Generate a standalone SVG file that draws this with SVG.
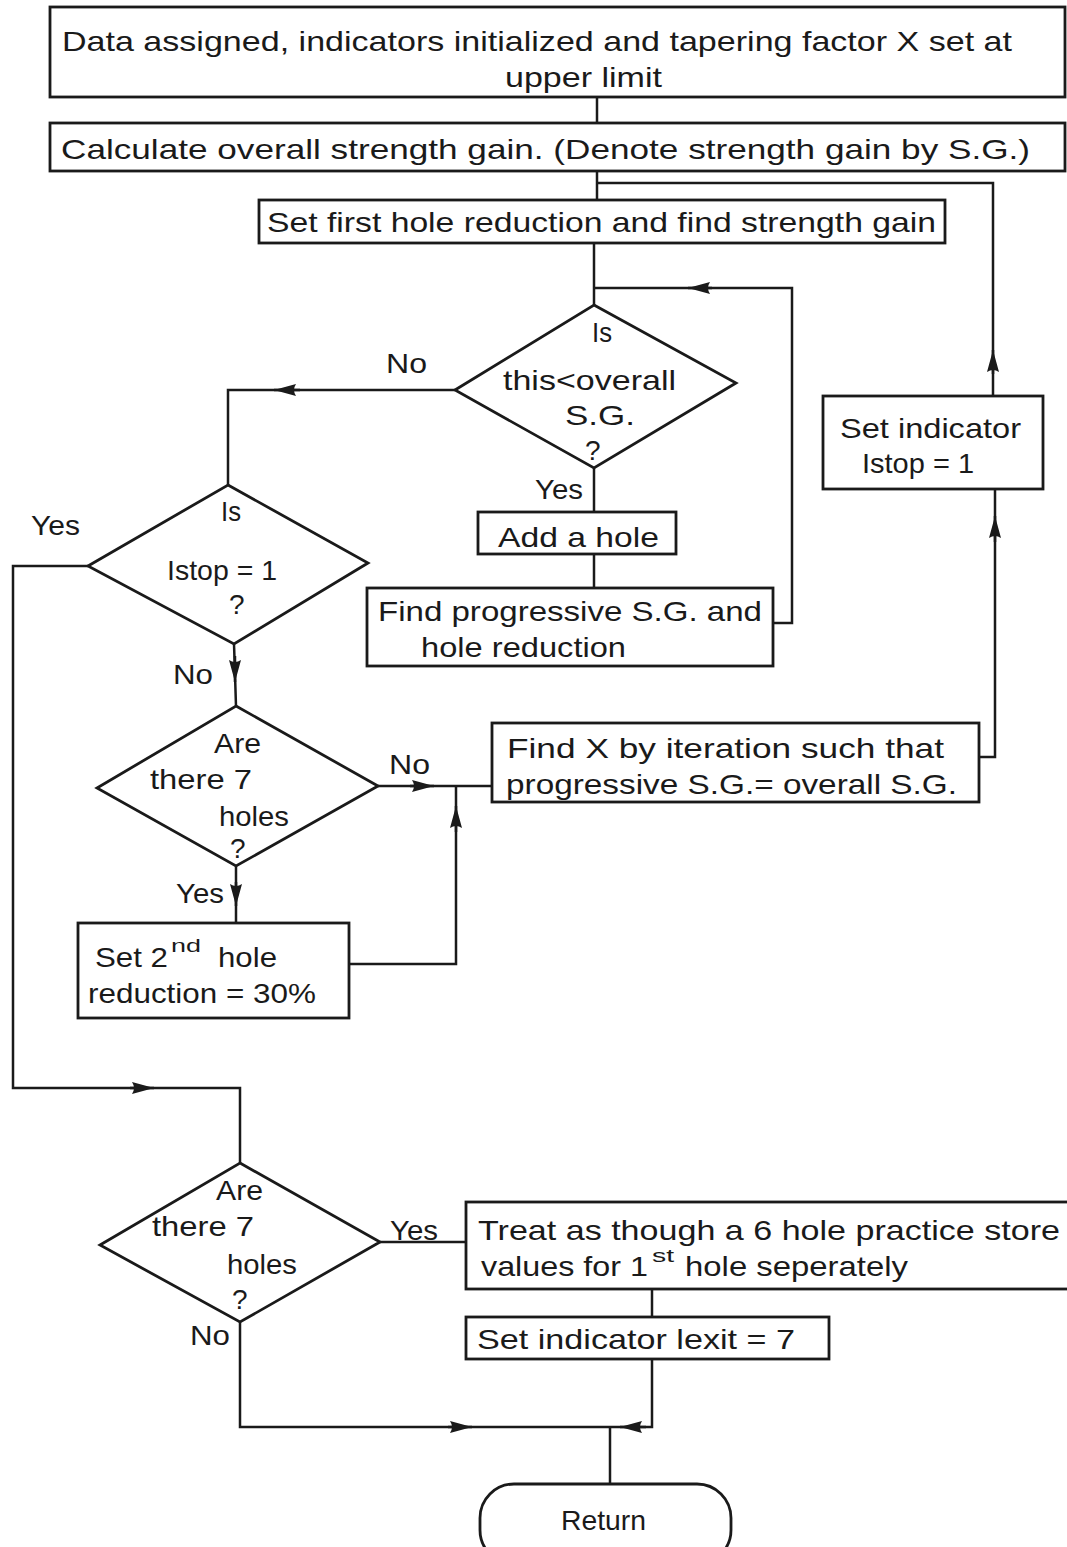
<svg xmlns="http://www.w3.org/2000/svg" width="1067" height="1547" viewBox="0 0 1067 1547">
<style>
.b{fill:#fff;stroke:#1a1a1a;stroke-width:2.8}
.c{fill:none;stroke:#1a1a1a;stroke-width:2.5}
.a{fill:none;stroke:#1a1a1a;stroke-width:2.5;marker-end:url(#ah)}
.t{font-family:"Liberation Sans",Arial,sans-serif;font-size:28px;fill:#1a1a1a}
.s{font-size:19px}
</style>
<defs>
<marker id="ah" markerUnits="userSpaceOnUse" markerWidth="24" markerHeight="14" refX="22" refY="7" orient="auto" viewBox="0 0 24 14">
<path d="M0,1 L22,7 L0,13 Q4,7 0,1 z" fill="#1a1a1a"/>
</marker>
</defs>
<rect width="1067" height="1547" fill="#fff"/>
<g id="connectors">
<path class="c" d="M597,97 V123"/>
<path class="c" d="M597,171 V200"/>
<path class="c" d="M597,183 H993 V396"/>
<path class="c" d="M594,243 V305"/>
<path class="c" d="M594,288 H792 V623 H773"/>
<path class="c" d="M455,390 H228 V485"/>
<path class="c" d="M594,468 V512"/>
<path class="c" d="M594,554 V588"/>
<path class="c" d="M88,566 H13 V1088 H240 V1163"/>
<path class="c" d="M234,644 L236,706"/>
<path class="c" d="M378,786 H492"/>
<path class="c" d="M349,964 H456 V786"/>
<path class="c" d="M236,866 V923"/>
<path class="c" d="M979,757 H995 V489"/>
<path class="c" d="M380,1242 H466"/>
<path class="c" d="M652,1289 V1317"/>
<path class="c" d="M240,1322 V1427 H652 V1359"/>
<path class="c" d="M610,1427 V1484"/>
<path class="a" d="M712,288 H688"/>
<path class="a" d="M300,390 H274"/>
<path class="a" d="M235,656 V682"/>
<path class="a" d="M993,374 V350"/>
<path class="a" d="M995,542 V516"/>
<path class="a" d="M410,786 H434"/>
<path class="a" d="M456,832 V806"/>
<path class="a" d="M236,882 V906"/>
<path class="a" d="M130,1088 H154"/>
<path class="a" d="M448,1427 H472"/>
<path class="a" d="M646,1427 H620"/>
</g>
<g id="labels">
<text class="t" x="386" y="373" textLength="41" lengthAdjust="spacingAndGlyphs">No</text>
<text class="t" x="535" y="499" textLength="48" lengthAdjust="spacingAndGlyphs">Yes</text>
<text class="t" x="31" y="535" textLength="49" lengthAdjust="spacingAndGlyphs">Yes</text>
<text class="t" x="173" y="684" textLength="40" lengthAdjust="spacingAndGlyphs">No</text>
<text class="t" x="389" y="774" textLength="41" lengthAdjust="spacingAndGlyphs">No</text>
<text class="t" x="176" y="903" textLength="48" lengthAdjust="spacingAndGlyphs">Yes</text>
<text class="t" x="390" y="1240" textLength="48" lengthAdjust="spacingAndGlyphs">Yes</text>
<text class="t" x="190" y="1345" textLength="40" lengthAdjust="spacingAndGlyphs">No</text>
</g>
<g id="n1">
<rect class="b" x="50" y="7" width="1015" height="90"/>
<text class="t" x="62" y="51" textLength="950" lengthAdjust="spacingAndGlyphs">Data assigned, indicators initialized and tapering factor X set at</text>
<text class="t" x="505" y="87" textLength="157" lengthAdjust="spacingAndGlyphs">upper limit</text>
</g>
<g id="n2">
<rect class="b" x="50" y="123" width="1015" height="48"/>
<text class="t" x="61" y="159" textLength="969" lengthAdjust="spacingAndGlyphs">Calculate  overall strength gain.  (Denote strength gain by S.G.)</text>
</g>
<g id="n3">
<rect class="b" x="259" y="200" width="686" height="43"/>
<text class="t" x="267" y="232" textLength="669" lengthAdjust="spacingAndGlyphs">Set first hole reduction and find strength gain</text>
</g>
<g id="d1">
<polygon class="b" points="594,305 736,383 594,468 455,390"/>
<text class="t" x="592" y="342" textLength="20" lengthAdjust="spacingAndGlyphs">Is</text>
<text class="t" x="503" y="390" textLength="173" lengthAdjust="spacingAndGlyphs">this&lt;overall</text>
<text class="t" x="565" y="425" textLength="70" lengthAdjust="spacingAndGlyphs">S.G.</text>
<text class="t" x="585" y="460">?</text>
</g>
<g id="n4">
<rect class="b" x="478" y="512" width="198" height="42"/>
<text class="t" x="498" y="547" textLength="161" lengthAdjust="spacingAndGlyphs">Add a hole</text>
</g>
<g id="n5">
<rect class="b" x="367" y="588" width="406" height="78"/>
<text class="t" x="378" y="621" textLength="384" lengthAdjust="spacingAndGlyphs">Find progressive S.G. and</text>
<text class="t" x="421" y="657" textLength="205" lengthAdjust="spacingAndGlyphs">hole reduction</text>
</g>
<g id="d2">
<polygon class="b" points="228,485 368,563 234,644 88,566"/>
<text class="t" x="221" y="521" textLength="20" lengthAdjust="spacingAndGlyphs">Is</text>
<text class="t" x="167" y="580" textLength="110" lengthAdjust="spacingAndGlyphs">Istop = 1</text>
<text class="t" x="229" y="614">?</text>
</g>
<g id="n6">
<rect class="b" x="823" y="396" width="220" height="93"/>
<text class="t" x="840" y="438" textLength="181" lengthAdjust="spacingAndGlyphs">Set indicator</text>
<text class="t" x="862" y="473" textLength="112" lengthAdjust="spacingAndGlyphs">Istop = 1</text>
</g>
<g id="d3">
<polygon class="b" points="236,706 378,786 236,866 97,788"/>
<text class="t" x="214" y="753" textLength="47" lengthAdjust="spacingAndGlyphs">Are</text>
<text class="t" x="150" y="789" textLength="102" lengthAdjust="spacingAndGlyphs">there 7</text>
<text class="t" x="219" y="826" textLength="70" lengthAdjust="spacingAndGlyphs">holes</text>
<text class="t" x="230" y="858">?</text>
</g>
<g id="n7">
<rect class="b" x="492" y="723" width="487" height="79"/>
<text class="t" x="507" y="758" textLength="437" lengthAdjust="spacingAndGlyphs">Find X by  iteration  such that</text>
<text class="t" x="506" y="794" textLength="451" lengthAdjust="spacingAndGlyphs">progressive S.G.= overall S.G.</text>
</g>
<g id="n8">
<rect class="b" x="78" y="923" width="271" height="95"/>
<text class="t" x="95" y="967" textLength="73" lengthAdjust="spacingAndGlyphs">Set 2</text>
<text class="t s" x="171" y="952" textLength="30" lengthAdjust="spacingAndGlyphs">nd</text>
<text class="t" x="218" y="967" textLength="59" lengthAdjust="spacingAndGlyphs">hole</text>
<text class="t" x="88" y="1003" textLength="228" lengthAdjust="spacingAndGlyphs">reduction = 30%</text>
</g>
<g id="d4">
<polygon class="b" points="240,1163 380,1242 240,1322 100,1245"/>
<text class="t" x="216" y="1200" textLength="47" lengthAdjust="spacingAndGlyphs">Are</text>
<text class="t" x="152" y="1236" textLength="102" lengthAdjust="spacingAndGlyphs">there 7</text>
<text class="t" x="227" y="1274" textLength="70" lengthAdjust="spacingAndGlyphs">holes</text>
<text class="t" x="232" y="1309">?</text>
</g>
<g id="n9">
<rect class="b" x="466" y="1202" width="610" height="87"/>
<text class="t" x="478" y="1240" textLength="582" lengthAdjust="spacingAndGlyphs">Treat as though a 6 hole practice  store</text>
<text class="t" x="481" y="1276" textLength="167" lengthAdjust="spacingAndGlyphs">values for 1</text>
<text class="t s" x="652" y="1262" textLength="22" lengthAdjust="spacingAndGlyphs">st</text>
<text class="t" x="685" y="1276" textLength="223" lengthAdjust="spacingAndGlyphs">hole seperately</text>
</g>
<g id="n10">
<rect class="b" x="466" y="1317" width="363" height="42"/>
<text class="t" x="477" y="1349" textLength="318" lengthAdjust="spacingAndGlyphs">Set indicator  lexit = 7</text>
</g>
<g id="n11">
<rect class="b" x="480" y="1484" width="251" height="80" rx="34" ry="34"/>
<text class="t" x="561" y="1530" textLength="85" lengthAdjust="spacingAndGlyphs">Return</text>
</g>
</svg>
